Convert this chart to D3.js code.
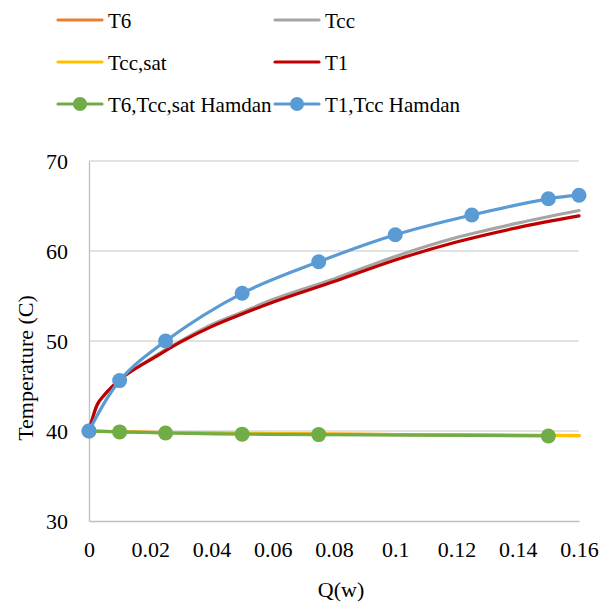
<!DOCTYPE html>
<html><head><meta charset="utf-8">
<script src="https://cdn.jsdelivr.net/npm/d3@7"></script>
<style>html,body{margin:0;padding:0;background:#fff;}svg text{font-family:"Liberation Serif","Times New Roman",serif !important;}</style>
</head><body>
<svg id="c" width="608" height="606"></svg>
<script>
// ---- data ----
const qModel = [0, 0.0025, 0.005, 0.0075, 0.01, 0.015, 0.02, 0.03, 0.04, 0.05, 0.06, 0.08, 0.1, 0.12, 0.14, 0.16];
const T1 =     [40, 42.8, 44.0, 44.9, 45.7, 46.9, 47.9, 49.9, 51.6, 53.0, 54.3, 56.6, 59.0, 61.0, 62.6, 63.9];
const Tcc =    [40, 42.8, 44.0, 44.9, 45.7, 46.9, 48.0, 50.0, 51.8, 53.2, 54.6, 56.9, 59.4, 61.5, 63.1, 64.5];
const qSat = [0, 0.02, 0.04, 0.06, 0.08, 0.1, 0.12, 0.14, 0.16];
const T6 =     [40, 39.85, 39.76, 39.7, 39.65, 39.6, 39.56, 39.52, 39.48];
const TccSat = [40, 39.86, 39.77, 39.71, 39.66, 39.61, 39.57, 39.53, 39.5];
const qHamGreen = [0, 0.01, 0.025, 0.05, 0.075, 0.15];
const hamGreen = [40, 39.9, 39.78, 39.65, 39.6, 39.45];
const qHamBlue = [0, 0.01, 0.025, 0.05, 0.075, 0.1, 0.125, 0.15, 0.16];
const hamBlue = [40, 45.6, 50.0, 55.3, 58.8, 61.8, 64.0, 65.8, 66.2];
const xTicks = [0, 0.02, 0.04, 0.06, 0.08, 0.1, 0.12, 0.14, 0.16];
const yTicks = [30, 40, 50, 60, 70];
const seriesNames = ["T6", "Tcc", "Tcc,sat", "T1", "T6,Tcc,sat Hamdan", "T1,Tcc Hamdan"];
const xTitle = "Q(w)", yTitle = "Temperature (C)";

// ---- layout ----
const FONT = "Liberation Serif, Times New Roman, serif";
const svg = d3.select("#c").attr("font-family", FONT);
const L = 89, R = 579, T = 161, B = 521;
const x = d3.scaleLinear().domain([0, 0.16]).range([L, R]);
const y = d3.scaleLinear().domain([30, 70]).range([B, T]);
const colors = ["#ED7D31", "#A5A5A5", "#FFC000", "#C00000", "#70AD47", "#5B9BD5"];

// gridlines
svg.append("g").selectAll("line").data(yTicks.filter(v => v > 30)).join("line")
  .attr("x1", L).attr("x2", R).attr("y1", d => y(d)).attr("y2", d => y(d))
  .attr("stroke", "#d9d9d9").attr("stroke-width", 1.3);

// axes
const yAxis = d3.axisLeft(y).tickValues(yTicks).tickSize(0).tickPadding(21).tickFormat(d3.format("d"));
const gy = svg.append("g").attr("transform", `translate(${L},0)`).call(yAxis).attr("font-family", FONT);
gy.select(".domain").attr("stroke", "#bfbfbf").attr("stroke-width", 1.3);
gy.selectAll("text").attr("font-size", 22).attr("fill", "#000");

const xAxis = d3.axisBottom(x).tickValues(xTicks).tickSize(0).tickPadding(20).tickFormat(d => d3.format("~g")(d));
const gx = svg.append("g").attr("transform", `translate(0,${B})`).call(xAxis).attr("font-family", FONT);
gx.select(".domain").attr("stroke", "#bfbfbf").attr("stroke-width", 1.3);
gx.selectAll("text").attr("font-size", 22).attr("fill", "#000");

// titles
svg.append("text").attr("x", 341).attr("y", 597).attr("text-anchor", "middle")
  .attr("font-size", 22).text(xTitle);
svg.append("text").attr("transform", "translate(33,368) rotate(-90)").attr("text-anchor", "middle")
  .attr("font-size", 22).text(yTitle);

// series
const smooth = d3.line().x(d => x(d[0])).y(d => y(d[1])).curve(d3.curveMonotoneX);
const smoothHam = d3.line().x(d => x(d[0])).y(d => y(d[1])).curve(d3.curveCatmullRom.alpha(0.5));
const zip = (a, b) => a.map((v, i) => [v, b[i]]);
const series = [
  {pts: zip(qSat, T6), c: colors[0]},
  {pts: zip(qModel, Tcc), c: colors[1]},
  {pts: zip(qSat, TccSat), c: colors[2]},
  {pts: zip(qModel, T1), c: colors[3]},
  {pts: zip(qHamGreen, hamGreen), c: colors[4], m: true},
  {pts: zip(qHamBlue, hamBlue), c: colors[5], m: true}
];
series.forEach(s => {
  svg.append("path").attr("d", (s.m ? smoothHam : smooth)(s.pts)).attr("fill", "none")
    .attr("stroke", s.c).attr("stroke-width", 3.2).attr("stroke-linecap", "round");
  if (s.m) {
    svg.append("g").selectAll("circle").data(s.pts).join("circle")
      .attr("cx", d => x(d[0])).attr("cy", d => y(d[1])).attr("r", 7.5).attr("fill", s.c);
  }
});

// legend
const legPos = [[58, 20], [275, 20], [58, 62], [275, 62], [58, 104], [275, 104]];
seriesNames.forEach((n, i) => {
  const [lx, ly] = legPos[i];
  const g = svg.append("g");
  g.append("line").attr("x1", lx).attr("x2", lx + 44).attr("y1", ly).attr("y2", ly)
    .attr("stroke", colors[i]).attr("stroke-width", 3.2).attr("stroke-linecap", "round");
  if (i >= 4) g.append("circle").attr("cx", lx + 22).attr("cy", ly).attr("r", 7).attr("fill", colors[i]);
  g.append("text").attr("x", lx + 50).attr("y", ly + 7.5).attr("font-size", 21).text(n);
});
</script>
</body></html>
